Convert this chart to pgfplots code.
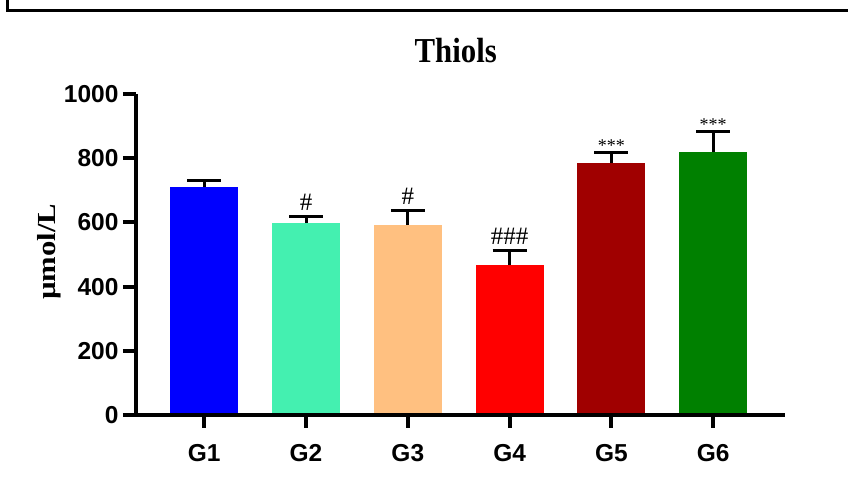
\documentclass[border=0pt]{standalone}
\usepackage{pgfplots}
\pgfplotsset{compat=1.18}
\usepackage{fontspec}
\setmainfont{Liberation Serif}
\newfontfamily\arialn{Liberation Sans}
\newfontfamily\timesn[FakeStretch=0.88]{Liberation Serif}
\newfontfamily\timesw[FakeStretch=1.18]{Liberation Serif}
\definecolor{cG1}{RGB}{0,0,255}
\definecolor{cG2}{RGB}{68,240,176}
\definecolor{cG3}{RGB}{255,192,128}
\definecolor{cG4}{RGB}{255,0,0}
\definecolor{cG5}{RGB}{160,0,0}
\definecolor{cG6}{RGB}{0,128,0}
\pgfplotsset{mybar/.style={ybar, bar width=68pt, bar shift=0pt, draw=none,
  error bars/y dir=plus, error bars/y explicit,
  error bars/error bar style={line width=3pt, black},
  error bars/error mark options={line width=3pt, black, mark size=17pt, rotate=90}}}
\begin{document}
\begin{tikzpicture}[x=1pt,y=1pt]
\useasboundingbox (0,0) rectangle (848,489);
\draw[line width=3pt, black] (7,489) -- (7,478) -- (849,478);
\begin{axis}[
  at={(136pt,74pt)}, anchor=south west,
  scale only axis, width=648.5pt, height=321pt,
  xmin=0.33, xmax=6.7, ymin=0, ymax=1000,
  axis x line*=bottom, axis y line*=left,
  axis line style={line width=4pt, black},
  axis on top,
  xtick={1,2,3,4,5,6}, xticklabels={G1,G2,G3,G4,G5,G6},
  ytick={0,200,400,600,800,1000},
  /pgf/number format/assume math mode=true,
  /pgf/number format/1000 sep={},
  tick align=outside, major tick length=13pt,
  every tick/.style={black, line width=4pt},
  ticklabel style={font=\fontsize{24.5}{24.5}\selectfont\arialn\bfseries},
  yticklabel style={xshift=-1pt},
  xticklabel style={yshift=-13pt},
  ylabel={µmol/L},
  ylabel style={at={(axis description cs:-0.134,0.508)}, anchor=center, font=\fontsize{26}{26}\selectfont\timesw\bfseries},
  title={Thiols},
  title style={at={(axis description cs:0.493,1.078)}, anchor=base, font=\fontsize{35}{35}\selectfont\timesn\bfseries},
  clip=false,
]
\addplot[mybar, fill=cG1] coordinates {(1,710) +- (0,20)};
\addplot[mybar, fill=cG2] coordinates {(2,598) +- (0,19)};
\addplot[mybar, fill=cG3] coordinates {(3,592) +- (0,44)};
\addplot[mybar, fill=cG4] coordinates {(4,467) +- (0,44)};
\addplot[mybar, fill=cG5] coordinates {(5,785) +- (0,34)};
\addplot[mybar, fill=cG6] coordinates {(6,819) +- (0,63)};
\node[anchor=base, font=\fontsize{25}{25}\selectfont, yshift=6pt] at (axis cs:2,617) {\#};
\node[anchor=base, font=\fontsize{25}{25}\selectfont, yshift=6pt] at (axis cs:3,636) {\#};
\node[anchor=base, font=\fontsize{25}{25}\selectfont, yshift=6pt] at (axis cs:4,511) {\#\#\#};
\node[anchor=base, font=\fontsize{18}{18}\selectfont, yshift=1pt] at (axis cs:5,819) {***};
\node[anchor=base, font=\fontsize{18}{18}\selectfont, yshift=1pt] at (axis cs:6,882) {***};
\end{axis}
\end{tikzpicture}
\end{document}
